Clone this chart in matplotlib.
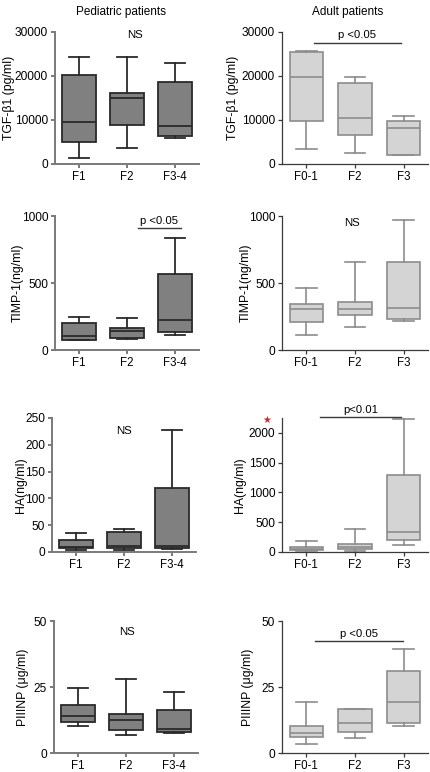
import matplotlib
matplotlib.use('Agg')
import matplotlib.pyplot as plt

plt.rcParams['font.family'] = ['Liberation Sans', 'DejaVu Sans']
plt.rcParams['font.size'] = 8

# box stats: [whislo, q1, median, q3, whishi]
ped_groups = ['F1', 'F2', 'F3-4']
adult_groups = ['F0-1', 'F2', 'F3']

ped_tgf = [[1300, 4900, 9600, 20200, 24300],
           [3700, 8800, 15000, 16200, 24400],
           [5800, 6400, 8700, 18600, 23000]]
adult_tgf = [[3300, 9700, 19700, 25400, 25700],
             [2600, 6500, 10400, 18500, 19700],
             [2000, 2100, 8100, 9700, 10800]]

ped_timp = [[73, 75, 105, 204, 249],
            [82, 92, 142, 167, 236],
            [112, 137, 224, 565, 838]]
adult_timp = [[112, 206, 303, 341, 460],
              [174, 261, 303, 356, 654],
              [219, 234, 311, 656, 970]]

ped_ha = [[3, 7, 9, 22, 35],
          [3, 7, 11, 37, 43],
          [5, 8, 12, 120, 227]]
adult_ha = [[17, 28, 56, 85, 186],
            [17, 45, 90, 130, 383],
            [113, 197, 344, 1296, 2225]]

ped_p3 = [[10.4, 11.9, 14.2, 18.0, 24.7],
          [6.9, 8.8, 12.6, 14.7, 27.9],
          [7.5, 7.9, 9.0, 16.3, 23.2]]
adult_p3 = [[3.4, 5.9, 7.5, 10.4, 19.2],
            [5.7, 7.9, 11.3, 16.6, 16.6],
            [10.1, 11.3, 19.2, 31.0, 39.3]]

ylabels = ['TGF-β1 (pg/ml)', 'TIMP-1(ng/ml)', 'HA(ng/ml)', 'PIIINP (μg/ml)']
ped_data = [ped_tgf, ped_timp, ped_ha, ped_p3]
adult_data = [adult_tgf, adult_timp, adult_ha, adult_p3]
ped_ylims = [(0, 30000), (0, 1000), (0, 250), (0, 50)]
adult_ylims = [(0, 30000), (0, 1000), (0, 2250), (0, 50)]
ped_yticks = [[0, 10000, 20000, 30000], [0, 500, 1000], [0, 50, 100, 150, 200, 250], [0, 25, 50]]
adult_yticks = [[0, 10000, 20000, 30000], [0, 500, 1000], [0, 500, 1000, 1500, 2000], [0, 25, 50]]

# annotations: (text, x, y, bracket (x0, x1, y) or None)
ped_notes = [('NS', 1.17, 29400, None),
             ('p <0.05', 1.67, 965, (1.22, 2.12, 908)),
             ('NS', 1.0, 225, None),
             ('NS', 1.03, 45.9, None)]
adult_notes = [('p <0.05', 1.05, 29300, (0.15, 1.95, 27500)),
               ('NS', 0.94, 945, None),
               ('p<0.01', 1.12, 2390, (0.29, 1.95, 2270)),
               ('p <0.05', 1.08, 45.2, (0.17, 1.99, 42.5))]

W, H = 430, 772
rows_top = [32, 216, 418, 621]
rows_bot = [164, 350, 552, 753]
ped_left = [55, 55, 52, 54]
adult_left = 282
ped_ylabel_x = [9, 18, 21, 23]
adult_ylabel_x = [233, 246, 240, 248]

fig = plt.figure(figsize=(W / 100, H / 100), dpi=100)


def make_stats(vals):
    out = []
    for v in vals:
        out.append(dict(whislo=v[0], q1=v[1], med=v[2], q3=v[3], whishi=v[4], fliers=[]))
    return out


def draw_panel(ax, data, groups, ylim, yticks, ylabel, note, style, label_x):
    if style == 'ped':
        face, edge, spine_c, spine_w, lw = '#808080', '#2a2a2a', '#7a7a7a', 1.4, 1.3
    else:
        face, edge, spine_c, spine_w, lw = '#d4d4d4', '#8c8c8c', '#3a3a3a', 0.9, 1.2
    ax.bxp(make_stats(data), positions=[0, 1, 2], widths=0.69, capwidths=0.42,
           showfliers=False, patch_artist=True,
           boxprops=dict(facecolor=face, edgecolor=edge, linewidth=lw),
           medianprops=dict(color=edge, linewidth=lw),
           whiskerprops=dict(color=edge, linewidth=lw),
           capprops=dict(color=edge, linewidth=lw))
    ax.set_xlim(-0.5, 2.5)
    ax.set_ylim(*ylim)
    ax.set_yticks(yticks)
    ax.set_xticks([0, 1, 2])
    ax.set_xticklabels(groups, fontsize=8.3)
    ax.set_ylabel(ylabel, fontsize=8.8, va='center')
    pos = ax.get_position()
    ax.yaxis.set_label_coords((label_x / W - pos.x0) / pos.width, 0.5)
    for s in ['top', 'right']:
        ax.spines[s].set_visible(False)
    for s in ['left', 'bottom']:
        ax.spines[s].set_color(spine_c)
        ax.spines[s].set_linewidth(spine_w)
    ax.tick_params(axis='both', length=3, width=spine_w, color=spine_c, pad=2)
    ax.tick_params(axis='y', labelsize=8.6)
    ax.set_facecolor('none')
    txt, tx, ty, br = note
    ax.text(tx, ty, txt, ha='center', va='center', fontsize=8.2, clip_on=False)
    if br is not None:
        ax.plot([br[0], br[1]], [br[2], br[2]], color='#3a3a3a', linewidth=1.0, clip_on=False)


for i in range(4):
    b = 1 - rows_bot[i] / H
    h = (rows_bot[i] - rows_top[i]) / H
    axl = fig.add_axes([ped_left[i] / W, b, 144 / W, h])
    draw_panel(axl, ped_data[i], ped_groups, ped_ylims[i], ped_yticks[i], ylabels[i],
               ped_notes[i], 'ped', ped_ylabel_x[i])
    axr = fig.add_axes([adult_left / W, b, 146 / W, h])
    draw_panel(axr, adult_data[i], adult_groups, adult_ylims[i], adult_yticks[i], ylabels[i],
               adult_notes[i], 'adult', adult_ylabel_x[i])

fig.text(121 / W, 1 - 12 / H, 'Pediatric patients', ha='center', va='center', fontsize=8.5)
fig.text(348 / W, 1 - 12 / H, 'Adult patients', ha='center', va='center', fontsize=8.5)
fig.text(267 / W, 1 - 420 / H, '★', ha='center', va='center', fontsize=7, color='#e02020',
         family=['DejaVu Sans'])

fig.savefig('out.png', dpi=100)
